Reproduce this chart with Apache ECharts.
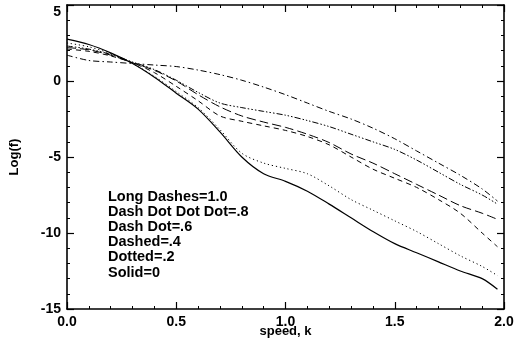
<!DOCTYPE html>
<html>
<head>
<meta charset="utf-8">
<script src="https://cdn.jsdelivr.net/npm/echarts@6/dist/echarts.min.js"></script>
<style>
  html, body { margin: 0; padding: 0; background: #fff; }
  #chart { width: 521px; height: 347px; }
</style>
</head>
<body>
<div id="chart"></div>
<script>
// speed values (x) shared by all curves
const speeds = [0.0, 0.1, 0.2, 0.3, 0.4, 0.5, 0.6, 0.7, 0.8, 0.9, 1.0,
                1.1, 1.2, 1.3, 1.4, 1.5, 1.6, 1.7, 1.8, 1.9, 1.97];

// Log(f)
const dashDot = [1.7, 1.35, 1.25, 1.15, 1.05, 0.95, 0.72, 0.42, 0.05, -0.4, -0.9,
                 -1.45, -2.0, -2.5, -3.1, -3.8, -4.6, -5.4, -6.2, -7.1, -7.9];
const dashDotDotDot = [2.3, 2.1, 1.75, 1.25, 0.75, 0.05, -0.75, -1.45, -1.75, -2.0, -2.25,
                       -2.6, -3.0, -3.5, -4.0, -4.5, -5.2, -6.0, -6.8, -7.5, -8.1];
const longDashes = [2.2, 2.05, 1.7, 1.2, 0.7, 0.0, -0.9, -1.7, -2.3, -2.7, -3.05,
                    -3.5, -4.05, -4.8, -5.4, -6.1, -6.8, -7.5, -8.2, -8.7, -9.1];
const dashed = [2.1, 1.95, 1.65, 1.2, 0.55, -0.35, -1.3, -2.3, -2.65, -2.95, -3.25,
                -3.65, -4.2, -5.0, -5.8, -6.4, -7.0, -7.8, -8.7, -10.0, -10.9];
const dotted = [2.5, 2.25, 1.8, 1.15, 0.3, -0.7, -1.75, -3.2, -4.75, -5.4, -5.75,
                -6.1, -6.9, -7.8, -8.5, -9.2, -9.9, -10.7, -11.5, -12.2, -12.8];
const solid = [2.75, 2.4, 1.85, 1.15, 0.25, -0.8, -1.85, -3.35, -5.0, -6.1, -6.6,
               -7.25, -8.1, -9.0, -9.9, -10.7, -11.3, -11.9, -12.5, -13.0, -13.7];

const xTicks = ["0.0", "0.5", "1.0", "1.5", "2.0"];
const yTicks = ["5", "0", "-5", "-10", "-15"];
const notes = ["Long Dashes=1.0", "Dash Dot Dot Dot=.8", "Dash Dot=.6",
               "Dashed=.4", "Dotted=.2", "Solid=0"];

const font = "'Liberation Sans', Arial, sans-serif";
const chart = echarts.init(document.getElementById("chart"), null, { renderer: "canvas" });

const pairs = (ys) => speeds.map((x, i) => [x, ys[i]]);

const tickCommon = {
  axisLine: { show: true, onZero: false, lineStyle: { color: "#000", width: 1.6 } },
  axisTick: { show: true, inside: true, length: 7, lineStyle: { color: "#000", width: 1.2 } },
  minorTick: { show: true, splitNumber: 5, length: 3, lineStyle: { color: "#000", width: 1 } },
  splitLine: { show: false },
};

const mkLine = (name, ys, type, width) => ({
  name,
  type: "line",
  data: pairs(ys),
  showSymbol: false,
  smooth: 0.3,
  lineStyle: { color: "#000", width: width || 1, type },
  silent: true,
});

const option = {
  backgroundColor: "#fff",
  animation: false,
  grid: { left: 67, right: 17, top: 5, bottom: 38, outerBoundsMode: "none" },
  xAxis: [
    {
      type: "value", min: 0, max: 2, interval: 0.5,
      ...tickCommon,
      axisLabel: {
        color: "#000", fontFamily: font, fontWeight: "bold", fontSize: 14, margin: 6,
        formatter: (v) => xTicks[Math.round(v / 0.5)],
      },
      name: "speed, k", nameLocation: "middle", nameGap: 16, nameMoveOverlap: false,
      nameTextStyle: { color: "#000", fontFamily: font, fontWeight: "bold", fontSize: 13 },
    },
    {
      type: "value", min: 0, max: 2, interval: 0.5, position: "top",
      ...tickCommon, axisLabel: { show: false },
    },
  ],
  yAxis: [
    {
      type: "value", min: -15, max: 5, interval: 5,
      ...tickCommon,
      axisLabel: {
        color: "#000", fontFamily: font, fontWeight: "bold", fontSize: 14, margin: 6,
        verticalAlignMaxLabel: "top",
        formatter: (v) => yTicks[Math.round((5 - v) / 5)],
      },
      name: "Log(f)", nameLocation: "middle", nameGap: 46, nameMoveOverlap: false,
      nameTextStyle: { color: "#000", fontFamily: font, fontWeight: "bold", fontSize: 13 },
    },
    {
      type: "value", min: -15, max: 5, interval: 5, position: "right",
      ...tickCommon, axisLabel: { show: false },
    },
  ],
  series: [
    mkLine("Dash Dot", dashDot, [6, 3, 1.5, 3]),
    mkLine("Dash Dot Dot Dot", dashDotDotDot, [6, 2, 1.5, 2, 1.5, 2, 1.5, 2]),
    mkLine("Long Dashes", longDashes, [9, 4]),
    mkLine("Dashed", dashed, [5, 4]),
    mkLine("Dotted", dotted, [1.2, 2.8]),
    mkLine("Solid", solid, "solid", 1.2),
  ],
  graphic: [
    {
      type: "text", left: 108, top: 189,
      style: {
        text: notes.join("\n"), fill: "#000",
        font: "bold 14.5px " + font, lineHeight: 15.2,
      },
    },
  ],
};

chart.setOption(option);
</script>
</body>
</html>
